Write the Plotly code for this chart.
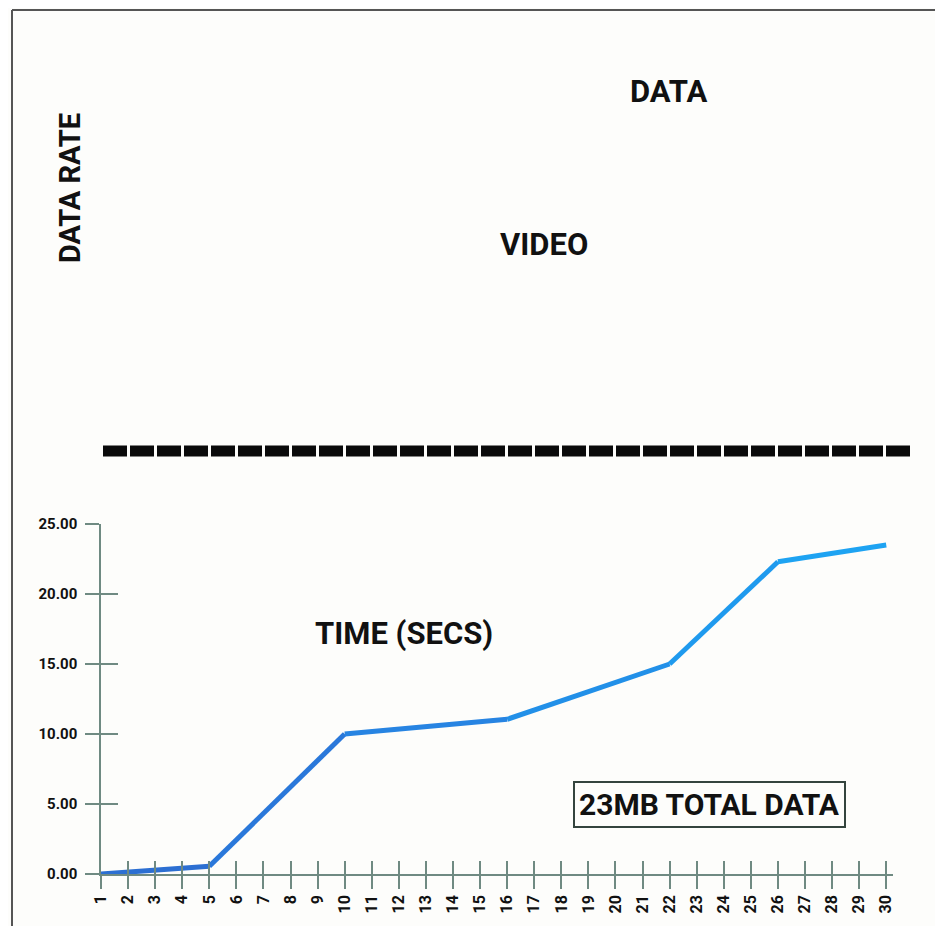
import plotly.graph_objects as go

# data
seconds = [1, 5, 10, 16, 22, 26, 30]
data_mb = [0.0, 0.55, 10.0, 11.05, 15.0, 22.3, 23.5]
x_ticks = list(range(1, 31))
y_ticks = [0, 5, 10, 15, 20, 25]

FONT = "Roboto, Liberation Sans, sans-serif"
AXIS_COLOR = "#6f8a82"
LINE_COLORS = ["#2c6fd2", "#2a78da", "#2784e2", "#2290e8", "#1f9aee", "#1ea3f2"]

# plot area as seen in the reference picture (pixels)
L, R, T, B = 101, 893, 524, 874
OFF = 8  # the page body margin pushes the figure 8px right and down


def px(x):
    return (x - L) / (R - L)


def py(y):
    return (B - y) / (B - T)


fig = go.Figure()

# one segment per trace so the blue can drift lighter along the line
for i in range(len(seconds) - 1):
    fig.add_trace(go.Scatter(
        x=seconds[i:i + 2], y=data_mb[i:i + 2],
        mode="lines", line=dict(color=LINE_COLORS[i], width=5),
        showlegend=False, hoverinfo="skip",
    ))

# invisible copy on the overlay axes, which carry the inner half of the ticks
fig.add_trace(go.Scatter(
    x=seconds, y=data_mb, xaxis="x2", yaxis="y2",
    mode="lines", line=dict(width=0), opacity=0, showlegend=False, hoverinfo="skip",
))

fig.update_layout(
    width=943,
    height=926,
    paper_bgcolor="#fdfdfb",
    plot_bgcolor="#fdfdfb",
    margin=dict(l=L - OFF, r=943 - (R - OFF), t=T - OFF, b=926 - (B - OFF)),
    xaxis=dict(
        range=[1, 30.25], tickvals=x_ticks, ticktext=[str(v) for v in x_ticks],
        tickangle=-90, ticks="outside", ticklen=13, tickwidth=1.5, tickcolor=AXIS_COLOR,
        showline=True, linecolor=AXIS_COLOR, linewidth=1.5,
        showgrid=False, zeroline=False,
        tickfont=dict(family=FONT, size=16, color="#111", weight="bold"),
    ),
    yaxis=dict(
        range=[0, 25], tickvals=y_ticks, tickformat=".2f",
        ticks="outside", ticklen=14, tickwidth=1.5, tickcolor=AXIS_COLOR,
        ticklabelstandoff=5,
        showline=True, linecolor=AXIS_COLOR, linewidth=1.5,
        showgrid=False, zeroline=False,
        tickfont=dict(family=FONT, size=15, color="#111", weight="bold"),
    ),
    xaxis2=dict(
        overlaying="x", anchor="y2", range=[1, 30.25], tickvals=x_ticks,
        ticks="inside", ticklen=13, tickwidth=1.5, tickcolor=AXIS_COLOR,
        showticklabels=False, showline=False, showgrid=False, zeroline=False,
    ),
    yaxis2=dict(
        overlaying="y", anchor="x2", range=[0, 25], tickvals=y_ticks,
        ticks="inside", ticklen=17, tickwidth=1.5, tickcolor=AXIS_COLOR,
        showticklabels=False, showline=False, showgrid=False, zeroline=False,
    ),
)

label_font = dict(family=FONT, color="#111", weight="bold")


def label(text, x, y, size, **kw):
    fig.add_annotation(text=text, x=px(x), y=py(y), xref="paper", yref="paper",
                       xanchor="center", yanchor="middle", showarrow=False,
                       font=dict(size=size, **label_font), **kw)


label("DATA", 668, 92, 31)
label("VIDEO", 544, 244, 31)
label("DATA RATE", 70, 188, 29, textangle=-90)
label("TIME (SECS)", 404, 633, 31)
label("23MB TOTAL DATA", 709, 804, 30,
      bordercolor="#34443e", borderwidth=2, borderpad=4, bgcolor="#fdfdfb")

# thick dashed rule of the empty data-rate panel
fig.add_shape(type="line", xref="paper", yref="paper",
              x0=px(103), x1=px(913), y0=py(451), y1=py(451),
              line=dict(color="#0a0a0a", width=11, dash="24px,3px"))

# page frame, top and left edges
fig.add_shape(type="line", xref="paper", yref="paper",
              x0=px(12), x1=px(943), y0=py(10), y1=py(10),
              line=dict(color="#555", width=2))
fig.add_shape(type="line", xref="paper", yref="paper",
              x0=px(12), x1=px(12), y0=py(10), y1=py(926),
              line=dict(color="#555", width=2))
fig.add_shape(type="line", xref="paper", yref="paper",
              x0=px(941), x1=px(941), y0=py(10), y1=py(926),
              line=dict(color="#e2e2e2", width=1))

fig.write_html("out.html")
